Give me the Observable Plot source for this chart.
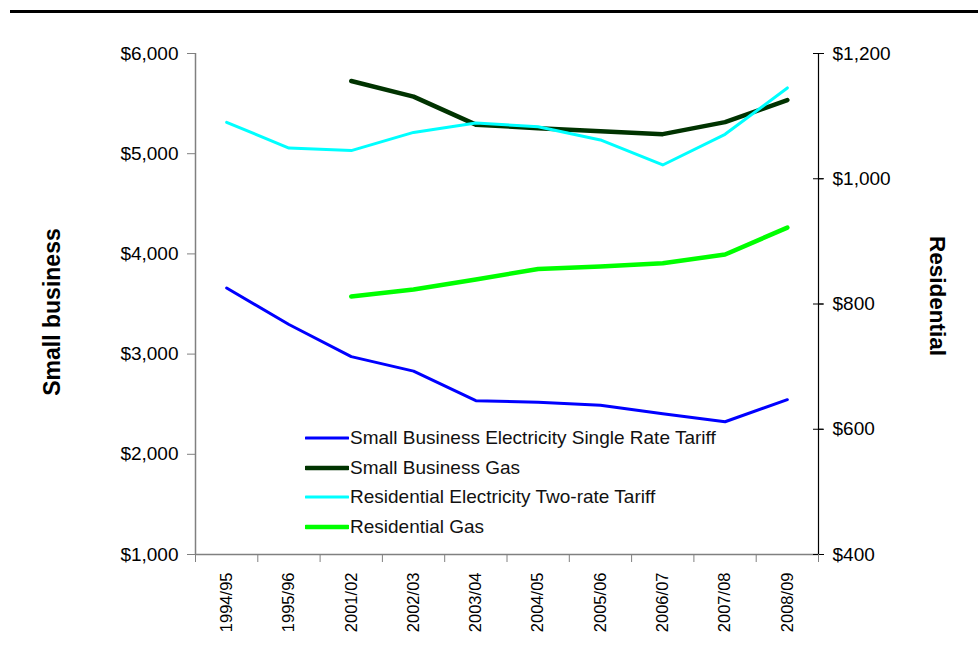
<!DOCTYPE html>
<html>
<head>
<meta charset="utf-8">
<script src="https://cdn.jsdelivr.net/npm/d3@7"></script>
<script src="https://cdn.jsdelivr.net/npm/@observablehq/plot@0.6"></script>
<style>
  html, body { margin: 0; padding: 0; background: white; }
  #wrap { position: relative; width: 978px; height: 655px; font-family: "Liberation Sans", Arial, sans-serif; }
  #toprule { position: absolute; left: 10px; right: 0; top: 10px; height: 3px; background: black; }
  #legend { position: absolute; left: 305px; top: 423px; font-size: 19px; color: #111; }
  .row { display: flex; align-items: center; height: 29.7px; white-space: nowrap; }
  .row svg { margin-right: 1px; }
</style>
</head>
<body>
<div id="wrap">
  <div id="toprule"></div>
  <div id="chart"></div>
  <div id="legend"></div>
</div>
<script>
// ---- data ----
const years = ["1994/95","1995/96","2001/02","2002/03","2003/04","2004/05","2005/06","2006/07","2007/08","2008/09"];
const sbElec  = [3660, 3295, 2975, 2830, 2535, 2520, 2490, 2405, 2325, 2545];
const sbGas   = [null, null, 5725, 5570, 5290, 5255, 5225, 5195, 5315, 5535];
const resElec = [1090, 1049, 1045, 1074, 1089, 1083, 1062, 1022, 1071, 1145];
const resGas  = [null, null, 812, 823, 839, 856, 860, 865, 879, 922];
const leftTicks  = [1000, 2000, 3000, 4000, 5000, 6000];
const rightTicks = [400, 600, 800, 1000, 1200];
const seriesNames = [
  "Small Business Electricity Single Rate Tariff",
  "Small Business Gas",
  "Residential Electricity Two-rate Tariff",
  "Residential Gas"
];
const seriesColors = ["#0000ff", "#003300", "#00ffff", "#00ff00"];
const seriesWidths = [3, 4.5, 3, 4.5];

// ---- dual axis mapping ----
const leftDomain = [leftTicks[0], leftTicks[leftTicks.length - 1]];
const rightDomain = [rightTicks[0], rightTicks[rightTicks.length - 1]];
const k = (leftDomain[1] - leftDomain[0]) / (rightDomain[1] - rightDomain[0]);
const toLeft = v => v == null ? null : leftDomain[0] + (v - rightDomain[0]) * k;
const toRight = v => rightDomain[0] + (v - leftDomain[0]) / k;
const money = d3.format("$,");

const idx = d3.range(years.length);
const edges = d3.range(years.length + 1).map(i => i - 0.5);
const seriesY = [
  i => sbElec[i],
  i => sbGas[i],
  i => toLeft(resElec[i]),
  i => toLeft(resGas[i])
];

const chart = Plot.plot({
  width: 978,
  height: 655,
  marginTop: 53,
  marginBottom: 101,
  marginLeft: 195,
  marginRight: 160,
  style: { fontFamily: "Liberation Sans, Arial, sans-serif", fontSize: "19px", background: "white", overflow: "visible" },
  x: { type: "linear", domain: [edges[0], edges[edges.length - 1]], axis: null },
  y: { domain: leftDomain, axis: null },
  marks: [
    // axis lines
    Plot.ruleY([leftDomain[0]], { stroke: "#808080", strokeWidth: 1.5 }),
    Plot.ruleX([edges[0]], { stroke: "#808080", strokeWidth: 1.5 }),
    Plot.ruleX([edges[edges.length - 1]], { stroke: "black", strokeWidth: 1.2 }),
    // left axis
    Plot.axisY(leftTicks, { anchor: "left", tickSize: 8, tickPadding: 9, tickFormat: money, stroke: "#808080", fill: "black" }),
    // right axis
    Plot.axisY(rightTicks.map(toLeft), { anchor: "right", tickSize: 5, tickPadding: 9, tickFormat: d => money(Math.round(toRight(d))), stroke: "black", fill: "black" }),
    Plot.ruleY(rightTicks.map(toLeft), { stroke: "black", insetLeft: 618, insetRight: -5 }),
    // x axis ticks at category boundaries
    Plot.axisX(edges, { anchor: "bottom", tickSize: 8, tickFormat: () => "", stroke: "#808080" }),
    // x category labels (rotated)
    Plot.text(idx, { x: i => i, text: i => years[i], frameAnchor: "bottom", dy: 18, rotate: -90, textAnchor: "end", lineAnchor: "middle", fontSize: 16.5, fill: "black" }),
    // series
    ...seriesY.map((fy, s) => Plot.line(idx, { x: i => i, y: fy, stroke: seriesColors[s], strokeWidth: seriesWidths[s], strokeLinejoin: "round", strokeLinecap: "round" })),
    // axis titles
    Plot.text(["Small business"], { frameAnchor: "left", dx: -143, dy: 8, rotate: -90, textAnchor: "middle", lineAnchor: "middle", fontWeight: "bold", fontSize: 23, fill: "black" }),
    Plot.text(["Residential"], { frameAnchor: "right", dx: 119, dy: -8, rotate: 90, textAnchor: "middle", lineAnchor: "middle", fontWeight: "bold", fontSize: 22.5, fill: "black" })
  ]
});
document.getElementById("chart").appendChild(chart);

// legend
const legend = document.getElementById("legend");
seriesNames.forEach((name, s) => {
  const row = document.createElement("div");
  row.className = "row";
  row.innerHTML = `<svg width="44" height="8"><line x1="1" y1="4" x2="43" y2="4" stroke="${seriesColors[s]}" stroke-width="${seriesWidths[s]}" stroke-linecap="round"/></svg><span>${name}</span>`;
  legend.appendChild(row);
});
</script>
</body>
</html>
